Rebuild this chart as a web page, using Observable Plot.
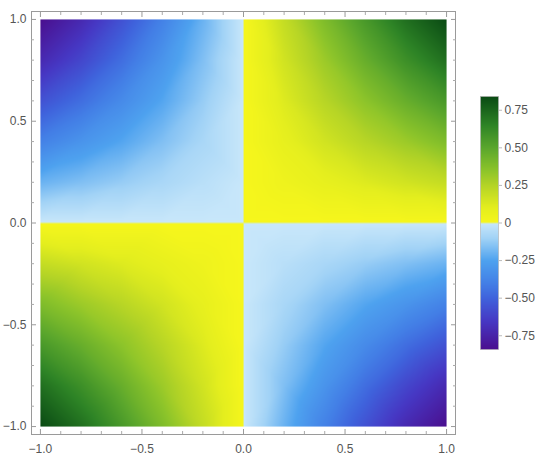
<!DOCTYPE html>
<html><head><meta charset="utf-8">
<script src="https://cdn.jsdelivr.net/npm/d3@7"></script>
<script src="https://cdn.jsdelivr.net/npm/@observablehq/plot@0.6"></script>
<style>
body{margin:0;background:#fff}
#c{position:relative;width:540px;height:463px}
#c svg{position:absolute;top:0}
</style>
</head><body><div id="c"></div>
<script>
// grid coordinates
const xs = [-1, -0.8, -0.6, -0.4, -0.2, 0, 0.2, 0.4, 0.6, 0.8, 1];
const ys = [1, 0.8, 0.6, 0.4, 0.2, 0, -0.2, -0.4, -0.6, -0.8, -1];
// values (rows: y from 1 down to -1; cols: x from -1 to 1)
const values = [
  [-0.84,-0.72,-0.56,-0.39,-0.20,0, 0.20, 0.39, 0.56, 0.72, 0.84],
  [-0.72,-0.60,-0.46,-0.31,-0.16,0, 0.16, 0.31, 0.46, 0.60, 0.72],
  [-0.56,-0.46,-0.35,-0.24,-0.12,0, 0.12, 0.24, 0.35, 0.46, 0.56],
  [-0.39,-0.31,-0.24,-0.16,-0.08,0, 0.08, 0.16, 0.24, 0.31, 0.39],
  [-0.20,-0.16,-0.12,-0.08,-0.04,0, 0.04, 0.08, 0.12, 0.16, 0.20],
  [ 0, 0, 0, 0, 0, 0, 0, 0, 0, 0, 0],
  [ 0.20, 0.16, 0.12, 0.08, 0.04,0,-0.04,-0.08,-0.12,-0.16,-0.20],
  [ 0.39, 0.31, 0.24, 0.16, 0.08,0,-0.08,-0.16,-0.24,-0.31,-0.39],
  [ 0.56, 0.46, 0.35, 0.24, 0.12,0,-0.12,-0.24,-0.35,-0.46,-0.56],
  [ 0.72, 0.60, 0.46, 0.31, 0.16,0,-0.16,-0.31,-0.46,-0.60,-0.72],
  [ 0.84, 0.72, 0.56, 0.39, 0.20,0,-0.20,-0.39,-0.56,-0.72,-0.84]
];
// extra samples near the origin (centres of the four innermost cells)
const extraX = [0.1, -0.1, -0.1, 0.1];
const extraY = [0.1, 0.1, -0.1, -0.1];
const extraV = [0.01, -0.01, 0.01, -0.01];

const majorTicks = [-1, -0.5, 0, 0.5, 1];
const majorLabels = ["−1.0", "−0.5", "0.0", "0.5", "1.0"];
const minorTicks = [-0.9,-0.8,-0.7,-0.6,-0.4,-0.3,-0.2,-0.1,0.1,0.2,0.3,0.4,0.6,0.7,0.8,0.9];
const legendTicks = [-0.75, -0.5, -0.25, 0, 0.25, 0.5, 0.75];
const legendLabels = ["−0.75", "−0.50", "−0.25", "0", "0.25", "0.50", "0.75"];
const valueExtent = [-0.8415, 0.8415];
const colorDomain = [-0.8415, -0.65, -0.5, -0.4, -0.25, -0.1, -0.0001, 0.0001, 0.1, 0.25, 0.35, 0.5, 0.65, 0.8415];
const colorRange = ["#4a0f8e", "#4638c4", "#3f62dc", "#437fe6", "#4ea2ef", "#a2d3f6", "#c8e7fa",
                    "#f6f61c", "#e4ee1e", "#b4d426", "#8cc42a", "#5aa62c", "#2e8426", "#0a4a14"];

const grid = [];
ys.forEach((y, i) => xs.forEach((x, j) => grid.push({x, y, v: values[i][j]})));
extraX.forEach((x, k) => grid.push({x, y: extraY[k], v: extraV[k]}));

const labelFmt = (d) => majorLabels[majorTicks.indexOf(d)];
const colorOpts = {type: "linear", domain: colorDomain, range: colorRange, clamp: true};
const font = "'Liberation Sans', Arial, sans-serif";

const main = Plot.plot({
  width: 540, height: 463,
  marginLeft: 31, marginRight: 85, marginTop: 11, marginBottom: 29,
  x: {domain: [-1.044, 1.044]},
  y: {domain: [-1.039, 1.039]},
  color: colorOpts,
  style: {fontFamily: font, fontSize: "12px", color: "#555", background: "white"},
  marks: [
    Plot.raster(grid, {x: "x", y: "y", fill: "v", x1: -1, x2: 1, y1: -1, y2: 1, interpolate: "barycentric"}),
    Plot.frame({stroke: "#9a9a9a"}),
    Plot.axisX(majorTicks, {anchor: "bottom", tickSize: 0, tickPadding: 10, tickFormat: labelFmt, label: null}),
    Plot.axisY(majorTicks, {anchor: "left", tickSize: 0, tickPadding: 5, tickFormat: labelFmt, label: null}),
    Plot.axisX(majorTicks, {anchor: "bottom", tickSize: -5, tickFormat: () => "", label: null, stroke: "#9a9a9a"}),
    Plot.axisX(majorTicks, {anchor: "top", tickSize: -5, tickFormat: () => "", label: null, stroke: "#9a9a9a"}),
    Plot.axisY(majorTicks, {anchor: "left", tickSize: -5, tickFormat: () => "", label: null, stroke: "#9a9a9a"}),
    Plot.axisY(majorTicks, {anchor: "right", tickSize: -5, tickFormat: () => "", label: null, stroke: "#9a9a9a"}),
    Plot.axisX(minorTicks, {anchor: "bottom", tickSize: -3, tickFormat: () => "", label: null, stroke: "#aaa"}),
    Plot.axisX(minorTicks, {anchor: "top", tickSize: -3, tickFormat: () => "", label: null, stroke: "#aaa"}),
    Plot.axisY(minorTicks, {anchor: "left", tickSize: -3, tickFormat: () => "", label: null, stroke: "#aaa"}),
    Plot.axisY(minorTicks, {anchor: "right", tickSize: -3, tickFormat: () => "", label: null, stroke: "#aaa"})
  ]
});
main.style.left = "0px";
document.getElementById("c").appendChild(main);

const legFmt = (d) => legendLabels[legendTicks.indexOf(d)];
const bar = Plot.plot({
  width: 70, height: 463,
  marginLeft: 10, marginRight: 42, marginTop: 96, marginBottom: 114,
  x: {domain: [0, 1], axis: null},
  y: {domain: valueExtent},
  color: colorOpts,
  style: {fontFamily: font, fontSize: "12px", color: "#555", background: "transparent"},
  marks: [
    Plot.raster({fill: (x, y) => y, x1: 0, x2: 1, y1: valueExtent[0], y2: valueExtent[1]}),
    Plot.frame({stroke: "#b0b0b0", strokeWidth: 0.6}),
    Plot.axisY(legendTicks, {anchor: "right", tickSize: 3, tickPadding: 3, tickFormat: legFmt, label: null, stroke: "#bbb"})
  ]
});
bar.style.left = "470px";
document.getElementById("c").appendChild(bar);
</script>
</body></html>
